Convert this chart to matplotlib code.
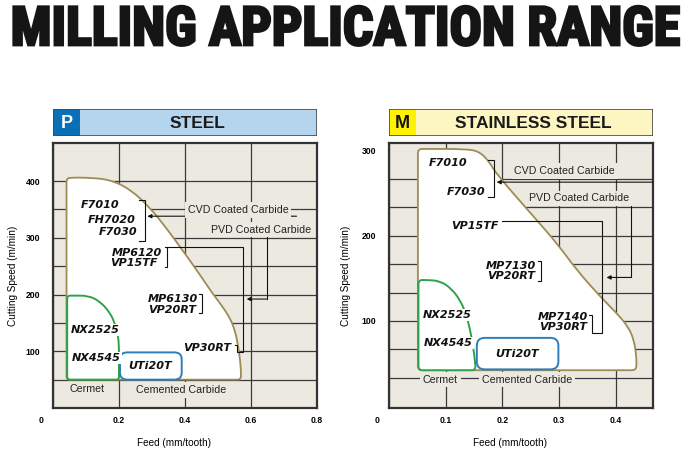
import numpy as np
import matplotlib
matplotlib.use("Agg")
import matplotlib.pyplot as plt
from matplotlib.path import Path
from matplotlib.patches import PathPatch, Rectangle
import matplotlib.transforms as mtransforms
import matplotlib.patheffects as pe
from matplotlib import font_manager as fm

# ------------------------------------------------------------------ data
title = "MILLING APPLICATION RANGE"
x_label = "Feed (mm/tooth)"
y_label = "Cutting Speed (m/min)"

# ---- P : STEEL
steel_code, steel_name = "P", "STEEL"
steel_xticks = [0, 0.2, 0.4, 0.6, 0.8]
steel_xticklabels = ["0", "0.2", "0.4", "0.6", "0.8"]
steel_yticks = [100, 200, 300, 400]
steel_yticklabels = ["100", "200", "300", "400"]
steel_ygrid_extra = [50, 150, 250, 350]
steel_xlim = (0, 0.8)
steel_ylim = (0, 467)

steel_carbide_feed = [0.060, 0.041, 0.041, 0.041, 0.041, 0.060, 0.100, 0.170, 0.233, 0.294,
                      0.345, 0.400, 0.445, 0.482, 0.512, 0.536, 0.552, 0.562, 0.568, 0.570,
                      0.569, 0.550]
steel_carbide_speed = [50, 50, 62, 392, 405, 406, 406, 403, 386, 353,
                       316, 272, 235, 203, 180, 159, 136, 106, 79, 60,
                       50, 50]
steel_cermet_feed = [0.060, 0.043, 0.043, 0.043, 0.043, 0.060, 0.107, 0.142, 0.173, 0.188,
                     0.197, 0.200, 0.200, 0.200, 0.185]
steel_cermet_speed = [50, 50, 60, 188, 198, 198, 198, 188, 168, 148,
                      128, 110, 60, 50, 50]
steel_uti_feed = [0.248, 0.203, 0.203, 0.203, 0.248, 0.345, 0.390, 0.390, 0.390, 0.345]
steel_uti_speed = [50, 50, 74, 98, 98, 98, 98, 74, 50, 50]

steel_grades = ["F7010", "FH7020", "F7030", "MP6120", "VP15TF", "MP6130", "VP20RT",
                "VP30RT", "NX2525", "NX4545", "UTi20T"]
steel_grade_feed = [0.142, 0.178, 0.198, 0.253, 0.246, 0.362, 0.362, 0.468, 0.127, 0.132, 0.294]
steel_grade_speed = [357, 332, 310, 274, 255, 192, 173, 105, 137, 88, 74]

steel_notes = ["CVD Coated Carbide", "PVD Coated Carbide", "Cermet", "Cemented Carbide"]
steel_note_feed = [0.561, 0.630, 0.102, 0.388]
steel_note_speed = [349, 314, 33, 32]

# ---- M : STAINLESS STEEL
stainless_code, stainless_name = "M", "STAINLESS STEEL"
stainless_xticks = [0, 0.1, 0.2, 0.3, 0.4]
stainless_xticklabels = ["0", "0.1", "0.2", "0.3", "0.4"]
stainless_yticks = [100, 200, 300]
stainless_yticklabels = ["100", "200", "300"]
stainless_ygrid_extra = [33.3, 66.7, 133.3, 166.7, 233.3, 266.7]
stainless_xlim = (0, 0.466)
stainless_ylim = (-2.4, 309)

stainless_carbide_feed = [0.066, 0.051, 0.051, 0.051, 0.051, 0.066, 0.135, 0.160, 0.178, 0.190,
                          0.260, 0.299, 0.331, 0.372, 0.405, 0.423, 0.432, 0.436, 0.437, 0.436,
                          0.420]
stainless_carbide_speed = [42, 42, 52, 292, 302, 302, 302, 299, 286, 272,
                           219, 189, 160, 129, 107, 92, 78, 62, 50, 42,
                           42]
stainless_cermet_feed = [0.066, 0.052, 0.052, 0.052, 0.052, 0.066, 0.090, 0.110, 0.126, 0.136,
                         0.143, 0.148, 0.152, 0.153, 0.140]
stainless_cermet_speed = [42, 42, 52, 138, 148, 148, 147, 138, 124, 108,
                          90, 72, 52, 42, 42]
stainless_uti_feed = [0.183, 0.155, 0.155, 0.155, 0.183, 0.271, 0.299, 0.299, 0.299, 0.271]
stainless_uti_speed = [43, 43, 61.5, 80, 80, 80, 80, 61.5, 43, 43]

stainless_grades = ["F7010", "F7030", "VP15TF", "MP7130", "VP20RT", "MP7140", "VP30RT",
                    "NX2525", "NX4545", "UTi20T"]
stainless_grade_feed = [0.1046, 0.136, 0.152, 0.216, 0.216, 0.307, 0.307, 0.1035, 0.1046, 0.226]
stainless_grade_speed = [285, 251, 212, 165, 153, 104, 92.6, 107, 74, 61]

stainless_notes = ["CVD Coated Carbide", "PVD Coated Carbide", "Cermet", "Cemented Carbide"]
stainless_note_feed = [0.310, 0.335, 0.091, 0.244]
stainless_note_speed = [276, 244, 31, 31]

# ------------------------------------------------------------------ style
BEIGE = "#ECE9E0"
BROWN = "#9E8B55"
GREEN = "#2EA24B"
BLUE = "#2E7DBA"
GRID = "#3a3a3a"
LINE = "#111111"

plt.rcParams["font.family"] = ["Liberation Sans", "DejaVu Sans"]

W, H = 693, 476
fig = plt.figure(figsize=(W / 100, H / 100), dpi=100)


def fig_rect(x0, y0, x1, y1):
    return [x0 / W, 1 - y1 / H, (x1 - x0) / W, (y1 - y0) / H]


def smooth_path(xs, ys):
    pts = np.column_stack([xs, ys]).astype(float)
    mids = (pts + np.roll(pts, -1, axis=0)) / 2
    verts = [mids[-1]]
    codes = [Path.MOVETO]
    for i in range(len(pts)):
        verts += [pts[i], mids[i]]
        codes += [Path.CURVE3, Path.CURVE3]
    verts.append(mids[-1])
    codes.append(Path.CLOSEPOLY)
    return Path(verts, codes)


arrow_kw = dict(arrowstyle="-|>", mutation_scale=6, lw=0.8, color=LINE,
                shrinkA=0, shrinkB=0)

# ------------------------------------------------------------------ title
names = {f.name for f in fm.fontManager.ttflist}
title_font = dict(family="DejaVu Sans", fontstretch="condensed", fontweight="bold")
for cand in ["Liberation Sans Narrow", "Roboto Condensed", "Open Sans Condensed",
             "Noto Sans Condensed"]:
    if cand in names:
        title_font = dict(family=cand, fontweight="bold")
        break
ttl = fig.text(346 / W, 1 - 30.5 / H, title, ha="center", va="center", color="#151515",
               fontsize=32,
               path_effects=[pe.withStroke(linewidth=2.0, foreground="#151515",
                                           joinstyle="miter")],
               **title_font)
fig.canvas.draw()
_w = ttl.get_window_extent().width
ttl.set_fontsize(32 * 671 / _w)


def make_panel(px0, px1, code, name, code_color, code_text_color, band_color,
               xticks, xticklabels, yticks, yticklabels, ygrid_extra, xlim, ylim,
               carbide, cermet, uti, grades, gfeed, gspeed, notes, nfeed, nspeed,
               ylabel_x, hide_top_grid):
    # header band
    hax = fig.add_axes(fig_rect(px0, 109, px1, 136))
    hax.set_xlim(0, 1)
    hax.set_ylim(0, 1)
    hax.axis("off")
    hax.add_patch(Rectangle((0, 0), 1, 1, facecolor=band_color, edgecolor="none"))
    hax.add_patch(Rectangle((0, 0), 0.103, 1, facecolor=code_color, edgecolor="none"))
    hax.add_patch(Rectangle((0, 0), 1, 1, facecolor="none", edgecolor="#4a4a4a", lw=1.2))
    hax.text(0.052, 0.47, code, ha="center", va="center", fontsize=13,
             fontweight="bold", color=code_text_color)
    hax.text(0.546, 0.47, name, ha="center", va="center", fontsize=12.5,
             fontweight="bold", color="#1a1a1a")

    ax = fig.add_axes(fig_rect(px0, 143, px1, 408))
    ax.set_facecolor(BEIGE)
    ax.set_xlim(*xlim)
    ax.set_ylim(*ylim)
    ax.set_axisbelow(True)
    ax.set_xticks(xticks)
    ax.set_xticklabels(xticklabels)
    ax.set_yticks(yticks)
    ax.set_yticklabels(yticklabels)
    ax.set_yticks(ygrid_extra, minor=True)
    ax.grid(True, which="both", color=GRID, lw=0.9)
    ax.tick_params(which="both", length=0)
    ax.tick_params(axis="x", pad=6.0, labelsize=6.2)
    ax.tick_params(axis="y", pad=9.0, labelsize=6.2)
    for lab in ax.get_xticklabels() + ax.get_yticklabels():
        lab.set_fontweight("bold")
    # origin label sits left of the corner
    z = ax.get_xticklabels()[0]
    z.set_transform(z.get_transform() + mtransforms.ScaledTranslation(-0.12, 0, fig.dpi_scale_trans))
    if hide_top_grid:
        ax.yaxis.get_major_ticks()[-1].gridline.set_visible(False)
    for s in ax.spines.values():
        s.set_color("#333333")
        s.set_linewidth(1.6)

    ax.set_xlabel(x_label, fontsize=7.2, va="center")
    ax.xaxis.set_label_coords(0.457, -0.132)
    ax.set_ylabel(y_label, fontsize=7.2, va="center")
    ax.yaxis.set_label_coords(ylabel_x, 0.5)

    ax.add_patch(PathPatch(smooth_path(*carbide), facecolor="white", edgecolor=BROWN,
                           lw=1.3, zorder=2))
    ax.add_patch(PathPatch(smooth_path(*cermet), facecolor="white", edgecolor=GREEN,
                           lw=1.4, zorder=3))
    ax.add_patch(PathPatch(smooth_path(*uti), facecolor="white", edgecolor=BLUE,
                           lw=1.4, zorder=3))

    for g, x, y in zip(grades, gfeed, gspeed):
        ax.text(x, y, g, ha="center", va="center", fontsize=8, fontweight="bold",
                fontstyle="italic", family="DejaVu Sans", color="#111111", zorder=6,
                bbox=dict(boxstyle="square,pad=0.08", facecolor="white", edgecolor="none"))
    for n, x, y in zip(notes, nfeed, nspeed):
        ax.text(x, y, n, ha="center", va="center", fontsize=7.7, color="#222222", zorder=6,
                bbox=dict(boxstyle="square,pad=0.25", facecolor=BEIGE, edgecolor="none"))
    return ax


ax1 = make_panel(53, 317, steel_code, steel_name, "#0B6FB5", "white", "#B5D5EF",
                 steel_xticks, steel_xticklabels, steel_yticks, steel_yticklabels,
                 steel_ygrid_extra, steel_xlim, steel_ylim,
                 (steel_carbide_feed, steel_carbide_speed),
                 (steel_cermet_feed, steel_cermet_speed),
                 (steel_uti_feed, steel_uti_speed),
                 steel_grades, steel_grade_feed, steel_grade_speed,
                 steel_notes, steel_note_feed, steel_note_speed, -0.150, False)

ax2 = make_panel(389, 653, stainless_code, stainless_name, "#FFF200", "#111111", "#FEF6C2",
                 stainless_xticks, stainless_xticklabels, stainless_yticks,
                 stainless_yticklabels, stainless_ygrid_extra, stainless_xlim, stainless_ylim,
                 (stainless_carbide_feed, stainless_carbide_speed),
                 (stainless_cermet_feed, stainless_cermet_speed),
                 (stainless_uti_feed, stainless_uti_speed),
                 stainless_grades, stainless_grade_feed, stainless_grade_speed,
                 stainless_notes, stainless_note_feed, stainless_note_speed, -0.163, True)

# ---- leader lines / brackets, steel
lk = dict(color=LINE, lw=0.8, zorder=5, solid_joinstyle="miter")
ax1.plot([0.261, 0.279, 0.279, 0.261], [367, 367, 295, 295], **lk)
ax1.annotate("", xy=(0.286, 338), xytext=(0.738, 338), arrowprops=arrow_kw, zorder=5)
ax1.plot([0.647, 0.647], [301, 192], **lk)
ax1.annotate("", xy=(0.587, 192), xytext=(0.647, 192), arrowprops=arrow_kw, zorder=5)
ax1.plot([0.338, 0.345, 0.345, 0.338], [283, 283, 249, 249], **lk)
ax1.plot([0.345, 0.577, 0.577, 0.559, 0.559, 0.553], [283, 283, 98, 98, 111, 111], **lk)
ax1.plot([0.443, 0.450, 0.450, 0.443], [201, 201, 167, 167], **lk)

# ---- leader lines / brackets, stainless
ax2.plot([0.175, 0.186, 0.186, 0.175], [289, 289, 245, 245], **lk)
ax2.annotate("", xy=(0.190, 263), xytext=(0.466, 263), arrowprops=arrow_kw, zorder=5)
ax2.plot([0.249, 0.428, 0.428], [236.5, 236.5, 151], **lk)
ax2.annotate("", xy=(0.384, 151), xytext=(0.428, 151), arrowprops=arrow_kw, zorder=5)
ax2.plot([0.199, 0.376, 0.376, 0.3575, 0.3575, 0.352], [217, 217, 85.5, 85.5, 107, 107], **lk)
ax2.plot([0.263, 0.269, 0.269, 0.263], [170, 170, 147, 147], **lk)

fig.savefig("out.png", dpi=100)
